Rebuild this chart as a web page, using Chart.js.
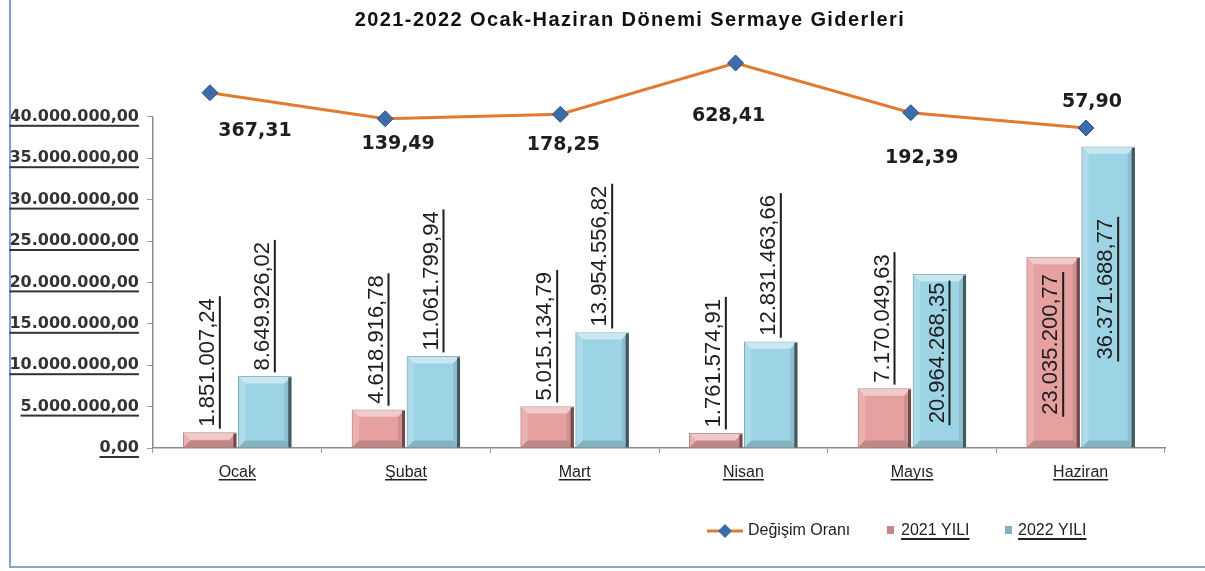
<!DOCTYPE html>
<html>
<head>
<meta charset="utf-8">
<script src="https://cdn.jsdelivr.net/npm/chart.js@4.4.1/dist/chart.umd.min.js"></script>
<style>
  html, body { margin: 0; padding: 0; background: #fff; }
</style>
</head>
<body>
<canvas id="sermaye" width="1205" height="571"></canvas>
<script>
// values
var months = ['Ocak', 'Şubat', 'Mart', 'Nisan', 'Mayıs', 'Haziran'];
var yil2021 = [1851007.24, 4618916.78, 5015134.79, 1761574.91, 7170049.63, 23035200.77];
var yil2022 = [8649926.02, 11061799.94, 13954556.82, 12831463.66, 20964268.35, 36371688.77];
var degisim = [367.31, 139.49, 178.25, 628.41, 192.39, 57.90];
var yMax = 50000000, yShown = 40000000, yStep = 5000000;

// where the value labels sit (inside the bar or above it)
var inside2021 = [false, false, false, false, false, true];
var inside2022 = [false, false, false, false, true, true];
// offsets of the Değişim Oranı labels from their points
var lineLabelOffset = [[45, 38], [13, 25], [3, 31], [-7, 53], [11, 45], [6, -26]];

// each year's bars sit half a bar left/right of the month centre
var barShift = 0.163;

function trNum(v) {
  var p = v.toFixed(2).split('.');
  return p[0].replace(/\B(?=(\d{3})+(?!\d))/g, '.') + ',' + p[1];
}

function poly(ctx, pts, fill) {
  ctx.beginPath();
  ctx.moveTo(pts[0][0], pts[0][1]);
  for (var i = 1; i < pts.length; i++) ctx.lineTo(pts[i][0], pts[i][1]);
  ctx.closePath();
  ctx.fillStyle = fill;
  ctx.fill();
}

// excel-ish bevel on the bars
var bevelPlugin = {
  id: 'bevel',
  afterDatasetDraw: function (chart, args) {
    var meta = args.meta;
    if (meta.type !== 'bar') return;
    var ctx = chart.ctx;
    var shadow = chart.data.datasets[args.index].shadowColor;
    meta.data.forEach(function (bar) {
      var p = bar.getProps(['x', 'y', 'base', 'width'], true);
      var l = p.x - p.width / 2, r = p.x + p.width / 2, t = p.y, b = p.base;
      var e = Math.min(7, (b - t) / 2);
      ctx.save();
      poly(ctx, [[l, t], [r, t], [r - e, t + e], [l + e, t + e]], 'rgba(255,255,255,0.45)');
      poly(ctx, [[l, t], [l + e, t + e], [l + e, b - e], [l, b]], 'rgba(255,255,255,0.18)');
      poly(ctx, [[r, t], [r, b], [r - e, b - e], [r - e, t + e]], 'rgba(0,0,0,0.10)');
      poly(ctx, [[l, b], [l + e, b - e], [r - e, b - e], [r, b]], 'rgba(0,0,0,0.16)');
      ctx.fillStyle = shadow;
      ctx.fillRect(r - 3, t + 1, 3, b - t - 1);
      ctx.restore();
    });
  }
};

var labelPlugin = {
  id: 'valueLabels',
  afterDatasetsDraw: function (chart) {
    var ctx = chart.ctx;
    ctx.save();
    ctx.font = '22px "Liberation Sans"';
    ctx.fillStyle = '#1e1e1e';
    [0, 1].forEach(function (di) {
      var meta = chart.getDatasetMeta(di);
      var values = di === 0 ? yil2021 : yil2022;
      var inside = di === 0 ? inside2021 : inside2022;
      meta.data.forEach(function (bar, i) {
        var txt = trNum(values[i]);
        var w = ctx.measureText(txt).width;
        var start = inside[i] ? (bar.y + bar.base) / 2 + w / 2 - 8 : bar.y - 6;
        ctx.save();
        ctx.translate(bar.x - 2, start);
        ctx.rotate(-Math.PI / 2);
        ctx.textAlign = 'left';
        ctx.textBaseline = 'middle';
        ctx.fillText(txt, 0, 0);
        ctx.fillRect(-2, 11, w + 4, 2);
        ctx.restore();
      });
    });

    // Değişim Oranı labels
    var lm = chart.getDatasetMeta(2);
    ctx.font = 'bold 19px "DejaVu Sans"';
    ctx.fillStyle = '#1e1e1e';
    ctx.textAlign = 'center';
    ctx.textBaseline = 'middle';
    lm.data.forEach(function (pt, i) {
      var off = lineLabelOffset[i];
      ctx.fillText(degisim[i].toFixed(2).replace('.', ','), pt.x + off[0], pt.y + off[1]);
    });
    ctx.restore();
  }
};

var decorPlugin = {
  id: 'decor',
  afterDraw: function (chart) {
    var ctx = chart.ctx;
    var ca = chart.chartArea;
    ctx.save();

    // frame
    ctx.fillStyle = '#7a9fd0';
    ctx.fillRect(9, 0, 2, 568);
    ctx.fillStyle = '#8aa4c4';
    ctx.fillRect(9, 566, 1196, 2);

    // title
    ctx.fillStyle = '#111';
    ctx.font = 'bold 20px "Liberation Sans"';
    ctx.letterSpacing = '1.4px';
    ctx.textAlign = 'center';
    ctx.textBaseline = 'middle';
    ctx.fillText('2021-2022 Ocak-Haziran Dönemi Sermaye Giderleri', 630, 20);
    ctx.letterSpacing = '0px';

    // y axis line only up to the last shown tick
    var ys = chart.scales.y;
    ctx.fillStyle = '#8c8c8c';
    ctx.fillRect(ca.left - 1, ys.getPixelForValue(yShown), 1.5, ys.getPixelForValue(0) - ys.getPixelForValue(yShown));

    // underline y tick labels
    ctx.font = 'bold 16px "DejaVu Sans"';
    ctx.fillStyle = '#333';
    ys.ticks.forEach(function (t) {
      if (t.value > yShown) return;
      var y = ys.getPixelForValue(t.value);
      var w = ctx.measureText(trNum(t.value)).width;
      ctx.fillRect(ca.left - 14 - w, y + 8, w, 2);
    });

    // underline x labels
    var xs = chart.scales.x;
    ctx.font = '16px "Liberation Sans"';
    ctx.fillStyle = '#222';
    months.forEach(function (m, i) {
      var x = xs.getPixelForTick(i);
      var w = ctx.measureText(m).width;
      ctx.fillRect(x - w / 2, ca.bottom + 31, w, 1.5);
    });

    // legend
    var ly = 531;
    ctx.strokeStyle = '#e07b30';
    ctx.lineWidth = 3;
    ctx.beginPath();
    ctx.moveTo(707, ly);
    ctx.lineTo(743, ly);
    ctx.stroke();
    poly(ctx, [[725, ly - 7], [732, ly], [725, ly + 7], [718, ly]], '#3c6da8');
    ctx.font = '16px "Liberation Sans"';
    ctx.fillStyle = '#222';
    ctx.textAlign = 'left';
    ctx.textBaseline = 'middle';
    ctx.fillText('Değişim Oranı', 748, ly);

    ctx.fillStyle = '#c98585';
    ctx.fillRect(887, ly - 5, 7, 8);
    ctx.fillStyle = '#222';
    ctx.fillText('2021 YILI', 901, ly);
    ctx.fillRect(901, ly + 7, ctx.measureText('2021 YILI').width, 2);

    ctx.fillStyle = '#7fb3c4';
    ctx.fillRect(1005, ly - 5, 7, 8);
    ctx.fillStyle = '#222';
    ctx.fillText('2022 YILI', 1018, ly);
    ctx.fillRect(1018, ly + 7, ctx.measureText('2022 YILI').width, 2);

    ctx.restore();
  }
};

function toPoints(arr) {
  return arr.map(function (v, i) { return { x: i, y: v }; });
}

var el = document.getElementById('sermaye');
var sermayeChart = new Chart(el, {
  type: 'bar',
  data: {
    labels: months,
    datasets: [{
      label: '2021 YILI',
      data: toPoints(yil2021),
      xAxisID: 'xa',
      yAxisID: 'y',
      grouped: false,
      barThickness: 53,
      backgroundColor: '#e6a0a0',
      borderColor: '#b57878',
      borderWidth: 1,
      shadowColor: '#6e4c4c',
      order: 1
    }, {
      label: '2022 YILI',
      data: toPoints(yil2022),
      xAxisID: 'xb',
      yAxisID: 'y',
      grouped: false,
      barThickness: 53,
      backgroundColor: '#9dd4e5',
      borderColor: '#6fa4b5',
      borderWidth: 1,
      shadowColor: '#44575e',
      order: 1
    }, {
      type: 'line',
      label: 'Değişim Oranı',
      data: toPoints(degisim),
      xAxisID: 'x2',
      yAxisID: 'y1',
      borderColor: '#e07b30',
      borderWidth: 3,
      pointStyle: 'rectRot',
      pointRadius: 8,
      pointBackgroundColor: '#3c6da8',
      pointBorderColor: '#2d5585',
      pointBorderWidth: 1,
      tension: 0,
      order: 0
    }]
  },
  options: {
    responsive: false,
    animation: false,
    devicePixelRatio: 1,
    layout: { padding: { top: 34, right: 40, left: 0, bottom: 0 } },
    plugins: {
      legend: { display: false },
      tooltip: { enabled: false }
    },
    scales: {
      x: {
        type: 'category',
        min: months[0],
        max: months[months.length - 1],
        offset: true,
        grid: { display: true, drawOnChartArea: false, offset: true, tickLength: 5, color: '#999' },
        border: { color: '#8c8c8c', width: 1.5 },
        ticks: { color: '#222', font: { family: 'Liberation Sans', size: 16 }, padding: 10, maxRotation: 0 },
        afterFit: function (s) { s.height = 123; }
      },
      xa: { type: 'linear', display: false, offset: false, min: -0.5 + barShift, max: months.length - 0.5 + barShift },
      xb: { type: 'linear', display: false, offset: false, min: -0.5 - barShift, max: months.length - 0.5 - barShift },
      x2: {
        type: 'linear',
        display: false,
        offset: false,
        min: -0.325,
        max: 5.451
      },
      y: {
        type: 'linear',
        min: 0,
        max: yMax,
        ticks: {
          stepSize: yStep,
          color: '#333',
          padding: 8,
          font: { family: 'DejaVu Sans', size: 16, weight: 'bold' },
          callback: function (v) { return v > yShown ? '' : trNum(v); }
        },
        grid: {
          drawOnChartArea: false,
          tickLength: 6,
          color: function (c) { return c.tick && c.tick.value > yShown ? 'rgba(0,0,0,0)' : '#999'; }
        },
        border: { display: false },
        afterFit: function (s) { s.width = 153; }
      },
      y1: {
        type: 'linear',
        display: false,
        min: -2751,
        max: 883
      }
    }
  },
  plugins: [bevelPlugin, labelPlugin, decorPlugin]
});
</script>
</body>
</html>
